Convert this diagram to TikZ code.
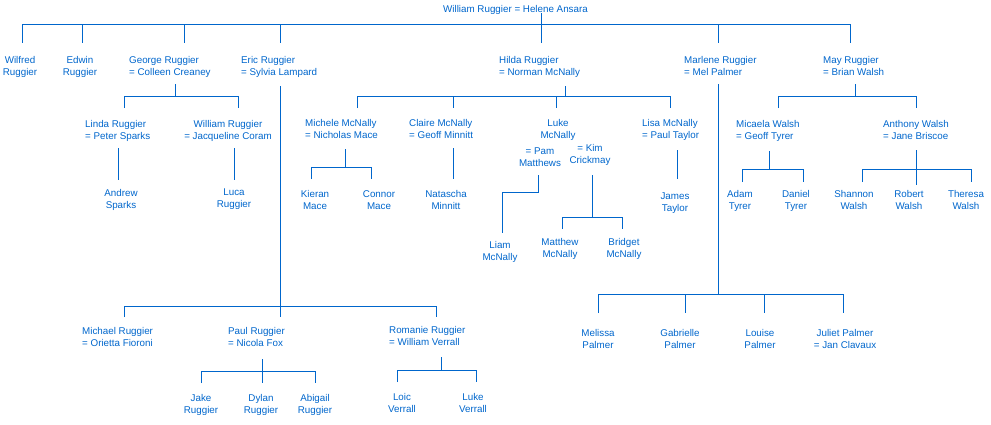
\documentclass[tikz,border=0pt]{standalone}
\usepackage{fontspec}
\setmainfont{Liberation Sans}
\definecolor{fam}{RGB}{0,102,204}
\tikzset{
  person/.style={inner sep=0pt, text=fam, font=\fontsize{9.8}{12}\selectfont,
    yshift=-1pt, execute at begin node={\rule{0pt}{9pt}}},
  pl/.style={person, anchor=north west, align=left},
  pc/.style={person, anchor=north, align=center},
  link/.style={draw=fam, line width=1pt}
}
\begin{document}
\begin{tikzpicture}[x=1pt, y=-1pt]
\useasboundingbox (0,0) rectangle (991,424);
% ---------- people ----------
\node[pl] (root) at (443,2.5) {William Ruggier = Helene Ansara};
\node[pc] (wilfred) at (20,55) {Wilfred\\Ruggier};
\node[pc] (edwin) at (80,55) {Edwin\\Ruggier};
\node[pl] (george) at (129,55) {George Ruggier\\= Colleen Creaney};
\node[pl] (eric) at (241,55) {Eric Ruggier\\= Sylvia Lampard};
\node[pl] (hilda) at (499,55) {Hilda Ruggier\\= Norman McNally};
\node[pl] (marlene) at (684,55) {Marlene Ruggier\\= Mel Palmer};
\node[pl] (may) at (823,55) {May Ruggier\\= Brian Walsh};
% George's family
\node[pl] (linda) at (85,119) {Linda Ruggier\\= Peter Sparks};
\node[pc] (williamr) at (228,119) {William Ruggier\\= Jacqueline Coram};
\node[pc] (andrew) at (121,188) {Andrew\\Sparks};
\node[pc] (luca) at (234,188) {Luca\\Ruggier};
% Hilda's family
\node[pl] (michele) at (305,118) {Michele McNally\\= Nicholas Mace};
\node[pl] (claire) at (409,118) {Claire McNally\\= Geoff Minnitt};
\node[pc] (lukem) at (558,118) {Luke\\McNally};
\node[pc] (pam) at (540,147) {= Pam\\Matthews};
\node[pc] (kim) at (590,143) {= Kim\\Crickmay};
\node[pl] (lisa) at (642,118) {Lisa McNally\\= Paul Taylor};
\node[pc] (kieran) at (315,189) {Kieran\\Mace};
\node[pc] (connor) at (379,189) {Connor\\Mace};
\node[pc] (natascha) at (446,189) {Natascha\\Minnitt};
\node[pc] (liam) at (500,240) {Liam\\McNally};
\node[pc] (matthew) at (560,237) {Matthew\\McNally};
\node[pc] (bridget) at (624,237) {Bridget\\McNally};
\node[pc] (james) at (675,192) {James\\Taylor};
% May's family
\node[pl] (micaela) at (736,119) {Micaela Walsh\\= Geoff Tyrer};
\node[pl] (anthony) at (883,119) {Anthony Walsh\\= Jane Briscoe};
\node[pc] (adam) at (740,189) {Adam\\Tyrer};
\node[pc] (daniel) at (796,189) {Daniel\\Tyrer};
\node[pc] (shannon) at (854,189) {Shannon\\Walsh};
\node[pc] (robert) at (909,189) {Robert\\Walsh};
\node[pc] (theresa) at (966,189) {Theresa\\Walsh};
% Eric's family
\node[pl] (michael) at (82,326) {Michael Ruggier\\= Orietta Fioroni};
\node[pl] (paul) at (228,326) {Paul Ruggier\\= Nicola Fox};
\node[pl] (romanie) at (389,325) {Romanie Ruggier\\= William Verrall};
\node[pc] (jake) at (201,393) {Jake\\Ruggier};
\node[pc] (dylan) at (261,393) {Dylan\\Ruggier};
\node[pc] (abigail) at (315,393) {Abigail\\Ruggier};
\node[pc] (loic) at (402,392) {Loic\\Verrall};
\node[pc] (lukev) at (473,392) {Luke\\Verrall};
% Marlene's family
\node[pc] (melissa) at (598,328) {Melissa\\Palmer};
\node[pc] (gabrielle) at (680,328) {Gabrielle\\Palmer};
\node[pc] (louise) at (760,328) {Louise\\Palmer};
\node[pc] (juliet) at (845,328) {Juliet Palmer\\= Jan Clavaux};
% ---------- connectors ----------
% generation 1
\draw[link] (541,13) -- (541,24);
\draw[link] (22,24) -- (850,24);
\foreach \x in {22,82,184,280,541,718,850} \draw[link] (\x,24) -- (\x,43);
% George
\draw[link] (175,84) -- (175,96);
\draw[link] (124,108) -- (124,96) -- (238,96) -- (238,108);
\draw[link] (118,148) -- (118,180);
\draw[link] (234,148) -- (234,180);
% Eric
\draw[link] (280,86) -- (280,306);
\draw[link] (124,317) -- (124,306) -- (436,306) -- (436,317);
\draw[link] (280,306) -- (280,317);
\draw[link] (262,359) -- (262,383);
\draw[link] (201,383) -- (201,371) -- (315,371) -- (315,383);
\draw[link] (441,357) -- (441,370);
\draw[link] (397,382) -- (397,370) -- (476,370) -- (476,382);
% Hilda
\draw[link] (565,86) -- (565,96);
\draw[link] (357,108) -- (357,96) -- (670,96) -- (670,108);
\draw[link] (453,96) -- (453,108);
\draw[link] (556,96) -- (556,108);
\draw[link] (345,149) -- (345,167);
\draw[link] (311,179) -- (311,167) -- (371,167) -- (371,179);
\draw[link] (453,148) -- (453,179);
\draw[link] (538,175) -- (538,192) -- (502,192) -- (502,233);
\draw[link] (592,175) -- (592,217);
\draw[link] (562,229) -- (562,217) -- (622,217) -- (622,229);
\draw[link] (677,150) -- (677,179);
% Marlene
\draw[link] (718,84) -- (718,294);
\draw[link] (598,313) -- (598,294) -- (843,294) -- (843,313);
\draw[link] (685,294) -- (685,313);
\draw[link] (764,294) -- (764,313);
% May
\draw[link] (855,84) -- (855,96);
\draw[link] (778,108) -- (778,96) -- (916,96) -- (916,108);
\draw[link] (769,151) -- (769,169);
\draw[link] (742,182) -- (742,169) -- (803,169) -- (803,182);
\draw[link] (916,150) -- (916,185);
\draw[link] (862,182) -- (862,169) -- (971,169) -- (971,182);
\end{tikzpicture}
\end{document}
